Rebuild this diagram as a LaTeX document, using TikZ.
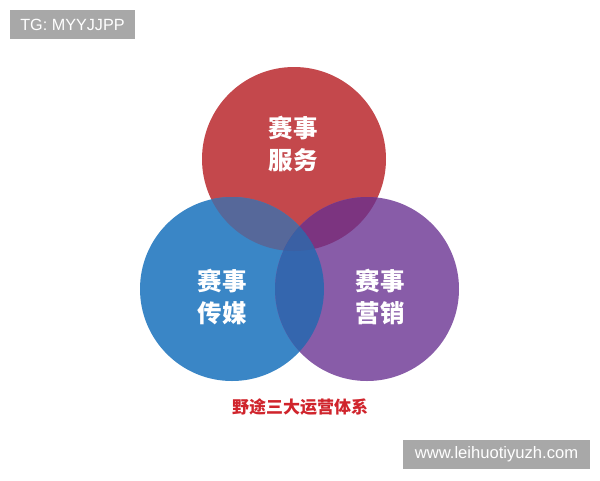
\documentclass[tikz,border=0pt]{standalone}
\usepackage{fontspec}
\setmainfont{Liberation Sans}
\newfontfamily\cjk{Noto Sans CJK SC}
\definecolor{cR}{HTML}{C4484C}
\definecolor{cB}{HTML}{3A86C6}
\definecolor{cP}{HTML}{885CA8}
\definecolor{cRB}{HTML}{56689A}
\definecolor{cRP}{HTML}{7C3480}
\definecolor{cBP}{HTML}{3466AE}
\definecolor{cRBP}{HTML}{3A60A4}
\definecolor{capred}{HTML}{D0242C}
\definecolor{tagbg}{HTML}{A8A8A8}
\tikzset{
  lbl/.style={text=white, font=\cjk\bfseries\fontsize{24.5}{32}\selectfont, align=center},
  tag/.style={fill=tagbg, text=white, inner sep=0pt, anchor=center},
}
\begin{document}
\begin{tikzpicture}[x=1pt,y=-1pt]
\useasboundingbox (0,0) rectangle (600,480);
\fill[white] (0,0) rectangle (600,480);
\def\CR{(294,159) circle (92)}
\def\CB{(232,289) circle (92)}
\def\CP{(367,289) circle (92)}
\fill[cR] \CR;
\fill[cB] \CB;
\fill[cP] \CP;
\begin{scope}\clip \CR; \fill[cRB] \CB; \fill[cRP] \CP; \end{scope}
\begin{scope}\clip \CB; \fill[cBP] \CP; \end{scope}
\begin{scope}\clip \CR; \clip \CB; \fill[cRBP] \CP; \end{scope}
\node[lbl] (serv) at (293,144) {赛事\\服务};
\node[lbl] (media) at (222,297) {赛事\\传媒};
\node[lbl] (mkt) at (380,297) {赛事\\营销};
\node[text=capred, font=\cjk\bfseries\fontsize{17}{20}\selectfont] (cap) at (300,407) {野途三大运营体系};
\node[tag, font=\fontsize{16.2}{19}\selectfont, minimum width=125pt, minimum height=29pt] (tg) at (72.5,24.5) {TG: MYYJJPP};
\node[tag, font=\fontsize{16.6}{19}\selectfont, minimum width=187pt, minimum height=29pt] (web) at (496.5,454.5) {www.leihuotiyuzh.com};
\end{tikzpicture}
\end{document}
